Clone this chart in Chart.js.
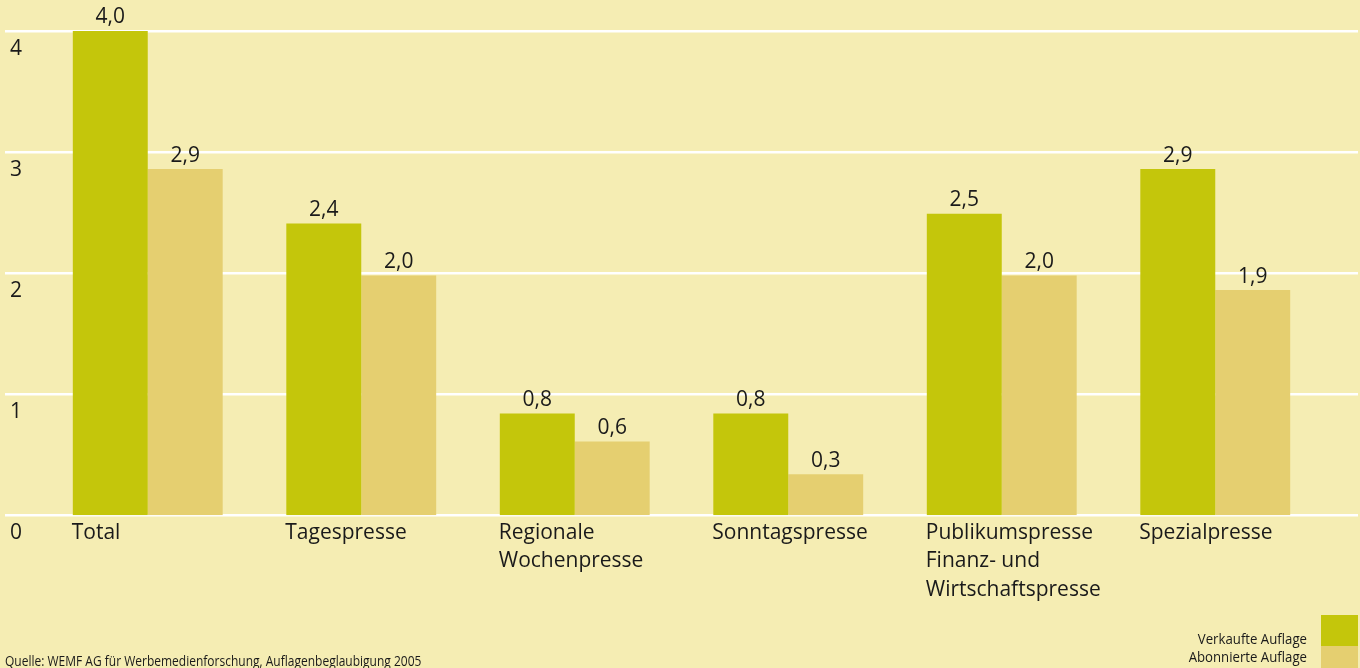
<!DOCTYPE html>
<html>
<head>
<meta charset="utf-8">
<script src="https://cdn.jsdelivr.net/npm/chart.js@4.4.0/dist/chart.umd.min.js"></script>
<style>
    html, body { margin: 0; padding: 0; background: #f5edb3; }
    #wrap { position: relative; width: 1360px; height: 668px; }
</style>
</head>
<body>
<div id="wrap"><canvas id="chart" width="1360" height="668"></canvas></div>
<script>
// Data
const categories = [
    'Total',
    'Tagespresse',
    ['Regionale', 'Wochenpresse'],
    'Sonntagspresse',
    ['Publikumspresse', 'Finanz- und', 'Wirtschaftspresse'],
    'Spezialpresse'
];
const verkaufte = [4.0, 2.41, 0.84, 0.84, 2.49, 2.86];
const abonnierte = [2.86, 1.98, 0.61, 0.34, 1.98, 1.86];
const yTicks = [0, 1, 2, 3, 4];
const seriesNames = ['Verkaufte Auflage', 'Abonnierte Auflage'];
const sourceText = 'Quelle: WEMF AG für Werbemedienforschung, Auflagenbeglaubigung 2005';

const GREEN = '#c4c60b';
const TAN = '#e5cf70';
const TEXT = '#1a1a1a';
const FONT = '"Open Sans", sans-serif';

const fmt = v => v.toFixed(1).replace('.', ',');

// white gridlines running across the whole width, behind the bars
const gridPlugin = {
    id: 'fullGrid',
    beforeDatasetsDraw(chart) {
        const ctx = chart.ctx;
        const y = chart.scales.y;
        ctx.save();
        ctx.fillStyle = '#ffffff';
        y.ticks.forEach(t => {
            const py = y.getPixelForValue(t.value);
            ctx.fillRect(5, Math.round(py) - 1, chart.width - 7, 2.5);
        });
        ctx.restore();
    }
};

// value labels above each bar
const valuePlugin = {
    id: 'values',
    afterDatasetsDraw(chart) {
        const ctx = chart.ctx;
        ctx.save();
        ctx.font = '21px ' + FONT;
        ctx.fillStyle = TEXT;
        ctx.textAlign = 'center';
        ctx.textBaseline = 'bottom';
        chart.data.datasets.forEach((ds, i) => {
            chart.getDatasetMeta(i).data.forEach((bar, j) => {
                ctx.fillText(fmt(ds.data[j]), bar.x, bar.y - 3);
            });
        });
        ctx.restore();
    }
};

// squeezed text, the original uses a condensed face
function narrowText(ctx, str, x, y, sx, align) {
    ctx.save();
    ctx.translate(x, y);
    ctx.scale(sx, 1);
    ctx.textAlign = align;
    ctx.fillText(str, 0, 0);
    ctx.restore();
}

// legend at bottom right and the source line
const footerPlugin = {
    id: 'footer',
    afterDraw(chart) {
        const ctx = chart.ctx;
        const ds = chart.data.datasets;
        ctx.save();
        ctx.fillStyle = ds[0].backgroundColor;
        ctx.fillRect(1321, 615, 37, 31);
        ctx.fillStyle = ds[1].backgroundColor;
        ctx.fillRect(1321, 646, 37, 22);

        ctx.font = '15px ' + FONT;
        ctx.fillStyle = TEXT;
        ctx.textBaseline = 'alphabetic';
        narrowText(ctx, ds[0].label, 1307, 644, 0.88, 'right');
        narrowText(ctx, ds[1].label, 1307, 662, 0.88, 'right');
        narrowText(ctx, sourceText, 5, 666, 0.8, 'left');
        ctx.restore();
    }
};

const ctx = document.getElementById('chart').getContext('2d');
new Chart(ctx, {
    type: 'bar',
    data: {
        labels: categories,
        datasets: [
            { label: seriesNames[0], data: verkaufte, backgroundColor: GREEN },
            { label: seriesNames[1], data: abonnierte, backgroundColor: TAN }
        ]
    },
    options: {
        responsive: false,
        animation: false,
        layout: { padding: { top: 31, left: 10, right: 38, bottom: 61 } },
        datasets: {
            bar: { categoryPercentage: 0.702, barPercentage: 1.0 }
        },
        plugins: {
            legend: { display: false },
            tooltip: { enabled: false }
        },
        scales: {
            x: {
                grid: { display: false, drawTicks: false },
                border: { display: false },
                ticks: {
                    align: 'start',
                    labelOffset: -76,
                    padding: 3,
                    autoSkip: false,
                    maxRotation: 0,
                    color: TEXT,
                    font: { family: FONT, size: 21, lineHeight: 1.36 }
                }
            },
            y: {
                min: 0,
                max: 4,
                afterFit(scale) { scale.width = 31; },
                afterBuildTicks(scale) { scale.ticks = yTicks.map(v => ({ value: v })); },
                grid: { display: false, drawTicks: false },
                border: { display: false },
                ticks: {
                    crossAlign: 'far',
                    labelOffset: 18,
                    padding: 0,
                    color: TEXT,
                    font: { family: FONT, size: 21 }
                }
            }
        }
    },
    plugins: [gridPlugin, valuePlugin, footerPlugin]
});
</script>
</body>
</html>
